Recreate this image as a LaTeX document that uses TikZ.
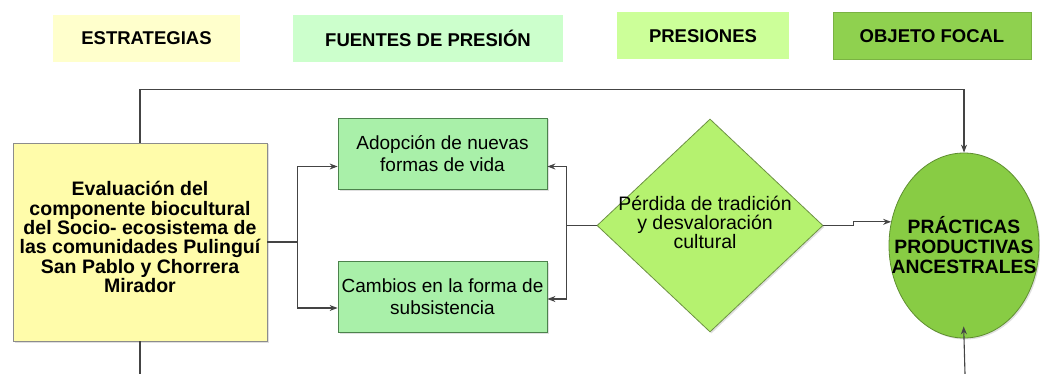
\documentclass[tikz,border=0pt]{standalone}
\usepackage{fontspec}
\setmainfont{Liberation Sans}
\usetikzlibrary{shapes.geometric,arrows.meta,shadows}
\definecolor{hyel}{HTML}{FFFFCC}
\definecolor{hgrn}{HTML}{CCFFCC}
\definecolor{hlim}{HTML}{CCFF99}
\definecolor{hfoc}{HTML}{8FD14F}
\definecolor{byel}{HTML}{FFFCAA}
\definecolor{bgrn}{HTML}{A9F0A9}
\definecolor{dgrn}{HTML}{B5F26F}
\definecolor{egrn}{HTML}{88CC44}
\definecolor{lin}{HTML}{444444}
\begin{document}
\begin{tikzpicture}[x=1pt,y=-1pt,
  hdr/.style={rectangle,inner sep=0pt,minimum height=47pt,font=\fontsize{18.5}{20}\selectfont\bfseries},
  shd/.style={drop shadow={opacity=0.25,shadow xshift=1.5pt,shadow yshift=-1.5pt}},
  gbox/.style={rectangle,draw=green!30!black!70,fill=bgrn,line width=0.8pt,minimum width=209pt,minimum height=71pt,inner sep=0pt,align=center,font=\fontsize{19}{22}\selectfont,shd},
  conn/.style={draw=lin,line width=1.1pt},
  arr/.style={conn,-{Stealth[length=8pt,width=6pt]}}]
\useasboundingbox (0,0) rectangle (1040,374);
% headers
\node[hdr,fill=hyel,minimum width=187pt] (h1) at (146.5,38.5) {ESTRATEGIAS};
\node[hdr,fill=hgrn,minimum width=270pt] (h2) at (428,38.5) {FUENTES DE PRESIÓN};
\node[hdr,fill=hlim,minimum width=172pt] (h3) at (703,36) {PRESIONES};
\node[hdr,fill=hfoc,draw=hfoc!85!black,minimum width=198pt] (h4) at (932,36) {OBJETO FOCAL};
% main nodes
\node[rectangle,draw=black!45,fill=byel,line width=0.8pt,minimum width=254pt,minimum height=198pt,inner sep=0pt,shd,
  label={[align=center,yshift=5pt,font=\fontsize{19.5}{19.3}\selectfont\bfseries]center:Evaluación del\\componente biocultural\\del Socio- ecosistema de\\las comunidades Pulinguí\\San Pablo y Chorrera\\Mirador}] (E) at (140,242) {};
\node[gbox] (A1) at (442.5,153.5) {Adopción de nuevas\\formas de vida};
\node[gbox] (A2) at (442.5,296.5) {Cambios en la forma de\\subsistencia};
\node[diamond,draw=dgrn!60!black,fill=dgrn,line width=0.8pt,minimum width=226pt,minimum height=213pt,inner sep=0pt,shd,
  label={[align=center,xshift=-5pt,yshift=3pt,font=\fontsize{19.5}{19}\selectfont]center:Pérdida de tradición\\y desvaloración\\cultural}] (D) at (710,225.5) {};
\node[ellipse,draw=egrn!70!black,fill=egrn,line width=0.8pt,minimum width=150pt,minimum height=185pt,inner sep=0pt,shd,
  label={[align=center,font=\fontsize{19.3}{20}\selectfont\bfseries]center:PRÁCTICAS\\PRODUCTIVAS\\ANCESTRALES}] (F) at (964,245.5) {};
\coordinate (eb) at (140,374);
\coordinate (fb) at (965,374);
% connectors
\draw[arr] (E.north) -- ++(0,-53) -| (F.north);
\draw[conn] (E.south) -- (eb);
\draw[arr,shorten >=-12pt] (fb) -- (F.south);
\draw[arr] (E.east) -- ++(30,0) |- ([yshift=-13pt]A1.west);
\draw[arr] (E.east) -- ++(30,0) |- ([yshift=-11.5pt]A2.west);
\draw[arr] (D.west) -- ++(-30,0) |- ([yshift=-13pt]A1.east);
\draw[arr] (D.west) -- ++(-30,0) |- ([yshift=-2.5pt]A2.east);
\draw[arr] (D.east) -- ++(30,0) |- (F.162);
\end{tikzpicture}
\end{document}
